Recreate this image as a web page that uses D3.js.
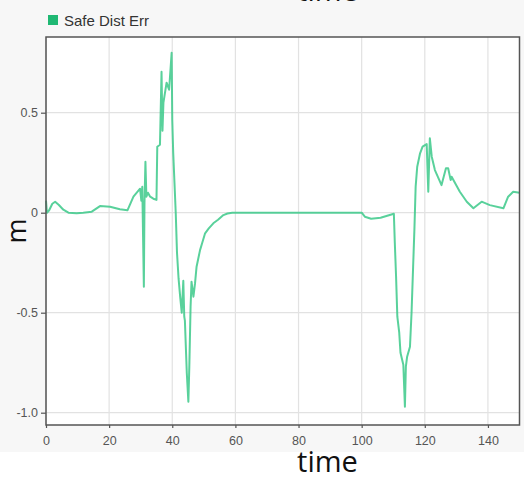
<!DOCTYPE html>
<html>
<head>
<meta charset="utf-8">
<script src="https://cdn.jsdelivr.net/npm/d3@7"></script>
<style>
  html, body { margin: 0; padding: 0; background: #ffffff; }
  svg { display: block; }
</style>
</head>
<body>
<svg id="chart" width="524" height="477"></svg>
<script>
// Safe distance error over time (seconds)
const time = [
  0, 0.3, 1.0, 2.0, 2.9, 4.0, 5.5, 7.1, 9.7, 11.8, 14.5, 17.1, 20.3, 23.4, 25.8,
  27.7, 29.8, 30.2, 30.5, 31.0, 31.2, 31.5, 31.8, 32.3, 33.0, 34.0, 35.0, 35.25,
  36.1, 36.6, 36.9, 37.2, 37.7, 38.2, 39.0, 39.8, 40.0, 40.3, 40.7, 41.1, 41.5,
  42.0, 42.5, 43.0, 43.5, 43.8, 44.0, 44.6, 45.1, 45.4, 45.8, 46.1, 46.7, 47.2,
  47.7, 48.8, 49.5, 50.4, 51.5, 53.0, 54.5, 56.2, 57.5, 59.0, 80.0, 100.0,
  101.0, 103.0, 106.0, 110.2, 110.5, 110.9, 111.3, 111.9, 112.3, 113.2, 113.7,
  114.0, 114.4, 115.3, 115.8, 116.3, 116.7, 117.1, 117.6, 118.5, 119.3, 120.6,
  121.1, 121.6, 122.2, 123.2, 125.3, 126.7, 127.4, 128.2, 128.5, 131.1, 133.3,
  135.4, 138.0, 140.6, 144.9, 146.4, 148.0, 150.0
];
const safeDistErr = [
  0.06, 0.0, 0.012, 0.045, 0.055, 0.04, 0.015, 0.0, -0.003, 0.0, 0.005, 0.033, 0.03, 0.017, 0.012,
  0.08, 0.12, 0.06, 0.13, -0.37, 0.05, 0.255, 0.08, 0.10, 0.08, 0.07, 0.064, 0.33,
  0.34, 0.705, 0.41, 0.55, 0.60, 0.65, 0.615, 0.80, 0.465, 0.30, 0.15, 0.0, -0.20,
  -0.33, -0.42, -0.50, -0.34, -0.52, -0.54, -0.80, -0.945, -0.77, -0.47, -0.345, -0.42, -0.355,
  -0.27, -0.187, -0.15, -0.103, -0.08, -0.053, -0.035, -0.012, -0.004, 0.0, 0.0, 0.0,
  -0.02, -0.03, -0.025, -0.005, -0.15, -0.32, -0.52, -0.60, -0.70, -0.76, -0.97,
  -0.77, -0.72, -0.67, -0.50, -0.27, -0.087, 0.13, 0.23, 0.297, 0.33, 0.343,
  0.105, 0.372, 0.28, 0.213, 0.138, 0.222, 0.222, 0.163, 0.18, 0.105, 0.055,
  0.022, 0.055, 0.038, 0.022, 0.08, 0.105, 0.10
];
const xTicks = [0, 20, 40, 60, 80, 100, 120, 140];
const yTicks = [0.5, 0, -0.5, -1.0];
const yTickLabels = ["0.5", "0", "-0.5", "-1.0"];
const seriesName = "Safe Dist Err";
const xLabel = "time";
const yLabel = "m";

const W = 524, H = 477;
const margin = { top: 37, right: 4.5, bottom: 52, left: 46 };
const plotW = W - margin.left - margin.right;
const plotH = H - margin.top - margin.bottom;

const svg = d3.select("#chart");

// page backdrop: light grey panel, white strip at the bottom
svg.append("rect").attr("x", 0).attr("y", 0).attr("width", W).attr("height", 452).attr("fill", "#f7f7f7");
svg.append("rect").attr("x", 0).attr("y", 452).attr("width", W).attr("height", H - 452).attr("fill", "#ffffff");

// title running off the top edge
svg.append("text")
  .attr("x", 327.5).attr("y", 1)
  .attr("text-anchor", "middle")
  .attr("font-family", "'Open Sans', sans-serif")
  .attr("font-size", 29).attr("fill", "#111")
  .text(xLabel);

const x = d3.scaleLinear().domain([0, 150]).range([0, plotW]);
const y = d3.scaleLinear().domain([-1.0615, 0.8785]).range([plotH, 0]);

const g = svg.append("g").attr("transform", `translate(${margin.left},${margin.top})`);

g.append("rect").attr("width", plotW).attr("height", plotH).attr("fill", "#ffffff");

// grid
g.append("g").selectAll("line").data(xTicks).join("line")
  .attr("x1", d => x(d)).attr("x2", d => x(d))
  .attr("y1", 0).attr("y2", plotH)
  .attr("stroke", "#e2e2e2").attr("stroke-width", 1.2);
g.append("g").selectAll("line").data(yTicks).join("line")
  .attr("x1", 0).attr("x2", plotW)
  .attr("y1", d => y(d)).attr("y2", d => y(d))
  .attr("stroke", "#e2e2e2").attr("stroke-width", 1.2);

// series line
const pts = time.map((t, i) => [t, safeDistErr[i]]);
g.append("path")
  .datum(pts)
  .attr("fill", "none")
  .attr("stroke", "#3cc98a")
  .attr("stroke-opacity", 0.85)
  .attr("stroke-width", 2)
  .attr("stroke-linejoin", "round")
  .attr("d", d3.line().x(d => x(d[0])).y(d => y(d[1])));

// axes
const xAxis = g.append("g").attr("transform", `translate(0,${plotH})`)
  .call(d3.axisBottom(x).tickValues(xTicks).tickSize(3).tickPadding(8).tickFormat(d3.format("d")));
const yAxis = g.append("g")
  .call(d3.axisLeft(y).tickValues(yTicks).tickSize(5).tickPadding(3)
    .tickFormat((d, i) => yTickLabels[i]));
[xAxis, yAxis].forEach(a => {
  a.select(".domain").remove();
  a.selectAll(".tick line").attr("stroke", "#555").attr("stroke-width", 1.2);
  a.selectAll(".tick text")
    .attr("font-family", "'Liberation Sans', Arial, sans-serif")
    .attr("font-size", 12.5).attr("fill", "#555");
});

// frame
g.append("rect").attr("width", plotW).attr("height", plotH)
  .attr("fill", "none").attr("stroke", "#555").attr("stroke-width", 1.5);

// legend
svg.append("rect").attr("x", 48).attr("y", 15).attr("width", 10).attr("height", 10).attr("fill", "#1fb873");
svg.append("text")
  .attr("x", 64).attr("y", 26)
  .attr("font-family", "'Liberation Sans', Arial, sans-serif")
  .attr("font-size", 15).attr("fill", "#333")
  .text(seriesName);

// axis titles
svg.append("text")
  .attr("x", 327.5).attr("y", 472)
  .attr("text-anchor", "middle")
  .attr("font-family", "'Open Sans', sans-serif")
  .attr("font-size", 29).attr("fill", "#111")
  .text(xLabel);
svg.append("text")
  .attr("transform", "translate(26,231) rotate(-90)")
  .attr("text-anchor", "middle")
  .attr("font-family", "'Open Sans', sans-serif")
  .attr("font-size", 27).attr("fill", "#111")
  .text(yLabel);
</script>
</body>
</html>
